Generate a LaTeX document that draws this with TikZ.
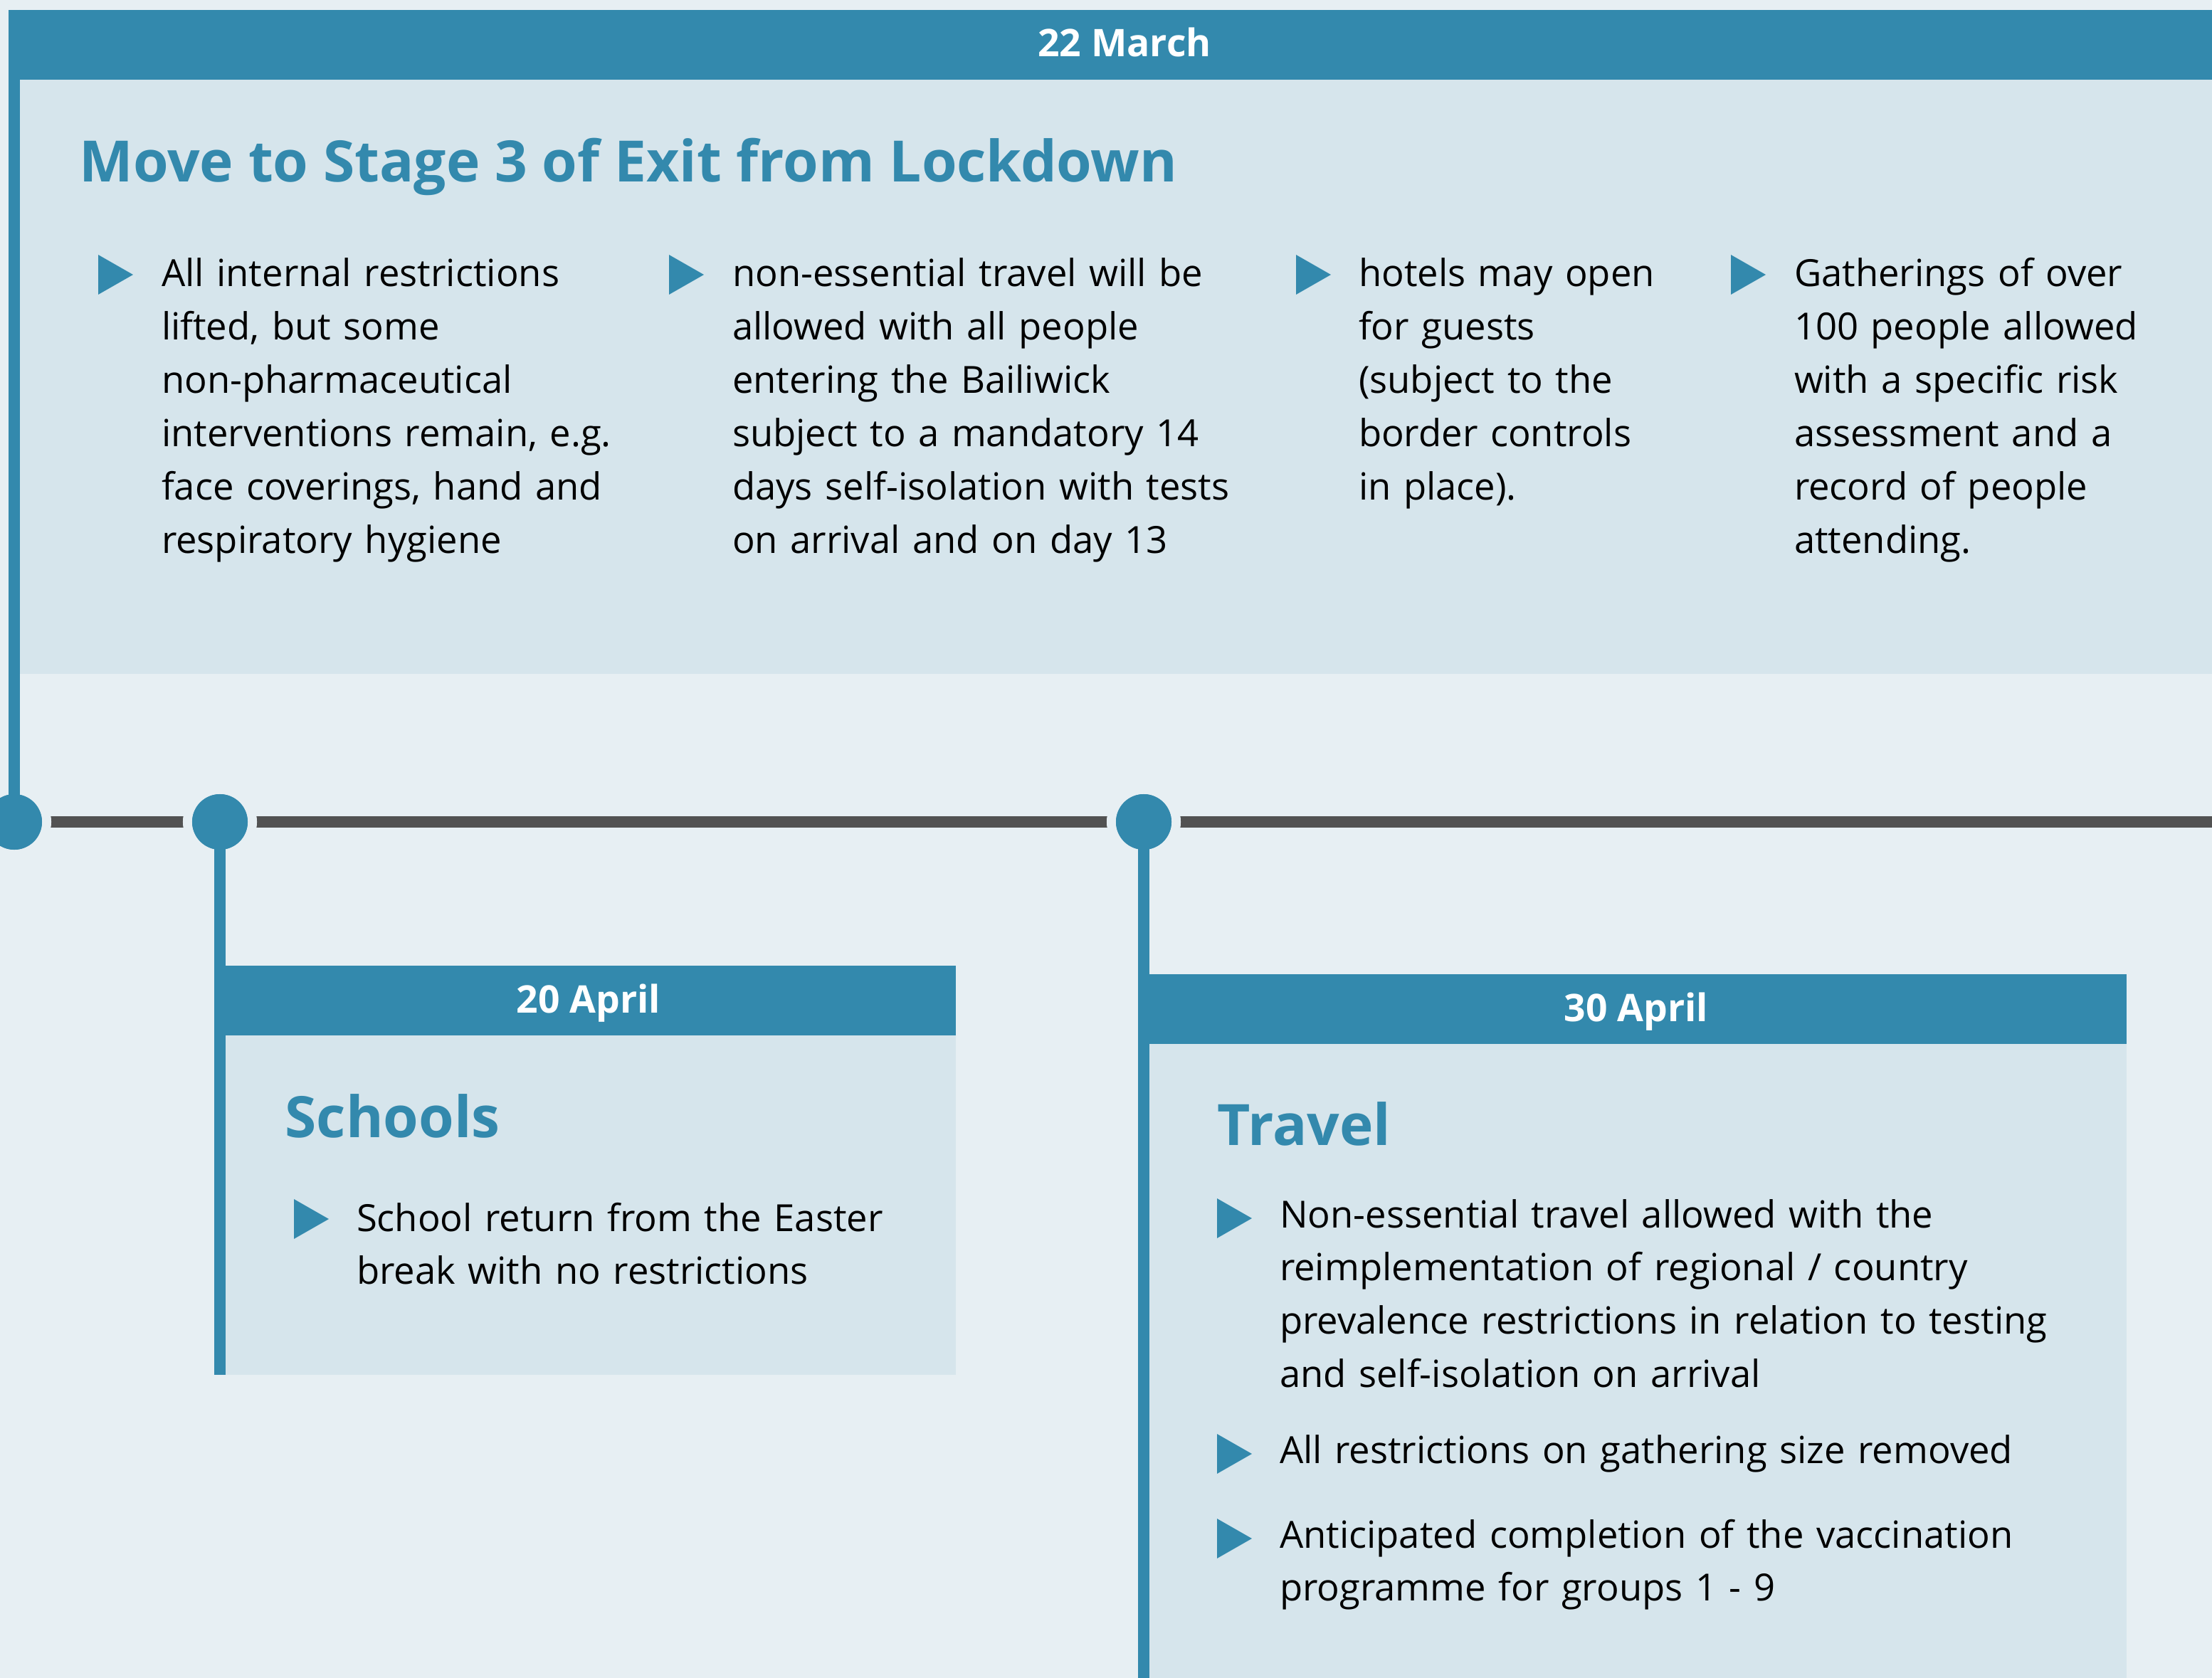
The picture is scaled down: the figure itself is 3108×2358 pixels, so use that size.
\documentclass[tikz,border=0pt]{standalone}
\usepackage{fontspec}
\setmainfont{Open Sans}
\definecolor{teal}{HTML}{3389AD}
\definecolor{lightbox}{HTML}{D6E5EC}
\definecolor{bgc}{HTML}{E7EFF3}
\definecolor{tline}{HTML}{525252}
\newcommand\bultri[2]{\fill[teal] (#1,#2-28) -- (#1+49,#2) -- (#1,#2+28) -- cycle;}
\begin{document}
\begin{tikzpicture}[x=0.01cm,y=-0.01cm,
  body/.style={anchor=base west, inner sep=0, outer sep=0, text width=#1, align=left,
    font=\fontsize{14.95}{21.3}\selectfont, text=black},
  body/.default=9cm,
  heading/.style={anchor=base west, inner sep=0, font=\fontsize{22.8}{28}\selectfont\bfseries, text=teal},
  datelbl/.style={anchor=base, inner sep=0, font=\fontsize{15.2}{18}\selectfont\bfseries, text=white},
  dot/.style={circle, fill=teal, draw=bgc, line width=0.13cm, minimum size=0.91cm, inner sep=0},
  bar/.style={draw=teal, line width=0.16cm},
  timeline/.style={draw=tline, line width=0.16cm}
]
\useasboundingbox (0,0) rectangle (3108,2358);
\fill[bgc] (0,0) rectangle (3108,2358);

% top box
\fill[lightbox] (28,112) rectangle (3108,947);
\fill[teal] (12,14) rectangle (3108,112);
\node[datelbl] (d22) at (1580,80) {22 March};
\node[heading] (t1) at (111,256) {Move to Stage 3 of Exit from Lockdown};

\bultri{138}{386}
\node[body] (c1) at (227,403) {All internal restrictions\\lifted, but some\\non-pharmaceutical\\interventions remain, e.g.\\face coverings, hand and\\respiratory hygiene};
\bultri{940}{386}
\node[body] (c2) at (1029,403) {non-essential travel will be\\allowed with all people\\entering the Bailiwick\\subject to a mandatory 14\\days self-isolation with tests\\on arrival and on day 13};
\bultri{1821}{386}
\node[body] (c3) at (1909,403) {hotels may open\\for guests\\(subject to the\\border controls\\in place).};
\bultri{2432}{386}
\node[body] (c4) at (2521,403) {Gatherings of over\\100 people allowed\\with a specific risk\\assessment and a\\record of people\\attending.};

% timeline
\draw[timeline] (0,1155) -- (3108,1155);
\node[dot] (p1) at (20,1155) {};
\node[dot] (p2) at (309,1155) {};
\node[dot] (p3) at (1607,1155) {};

% 20 April box
\fill[lightbox] (317,1455) rectangle (1343,1932);
\fill[teal] (301,1357) rectangle (1343,1455);
\coordinate (e2) at (309,1932);
\draw[bar] (p2.center) -- (e2);
\node[datelbl] (d20) at (827,1423) {20 April};
\node[heading] (t2) at (400,1598) {Schools};
\bultri{413}{1713}
\node[body] (s1) at (501,1730) {School return from the Easter\\break with no restrictions};

% 30 April box
\fill[lightbox] (1615,1467) rectangle (2988,2358);
\fill[teal] (1599,1369) rectangle (2988,1467);
\coordinate (e3) at (1607,2358);
\draw[bar] (p3.center) -- (e3);
\node[datelbl] (d30) at (2299,1435) {30 April};
\node[heading] (t3) at (1710,1609) {Travel};
\bultri{1710}{1712}
\node[body=12cm] (r1) at (1798,1725) {Non-essential travel allowed with the\\reimplementation of regional / country\\prevalence restrictions in relation to testing\\and self-isolation on arrival};
\bultri{1710}{2043}
\node[body=12cm] (r2) at (1798,2056) {All restrictions on gathering size removed};
\bultri{1710}{2162}
\node[body=12cm] (r3) at (1798,2175) {Anticipated completion of the vaccination\\programme for groups 1 - 9};

% left vertical from top header
\coordinate (e1) at (20,14);
\draw[bar] (e1) -- (p1.center);
\node[circle, fill=teal, minimum size=0.78cm, inner sep=0] (q1) at (p1) {};
\node[circle, fill=teal, minimum size=0.78cm, inner sep=0] (q2) at (p2) {};
\node[circle, fill=teal, minimum size=0.78cm, inner sep=0] (q3) at (p3) {};
\end{tikzpicture}
\end{document}
